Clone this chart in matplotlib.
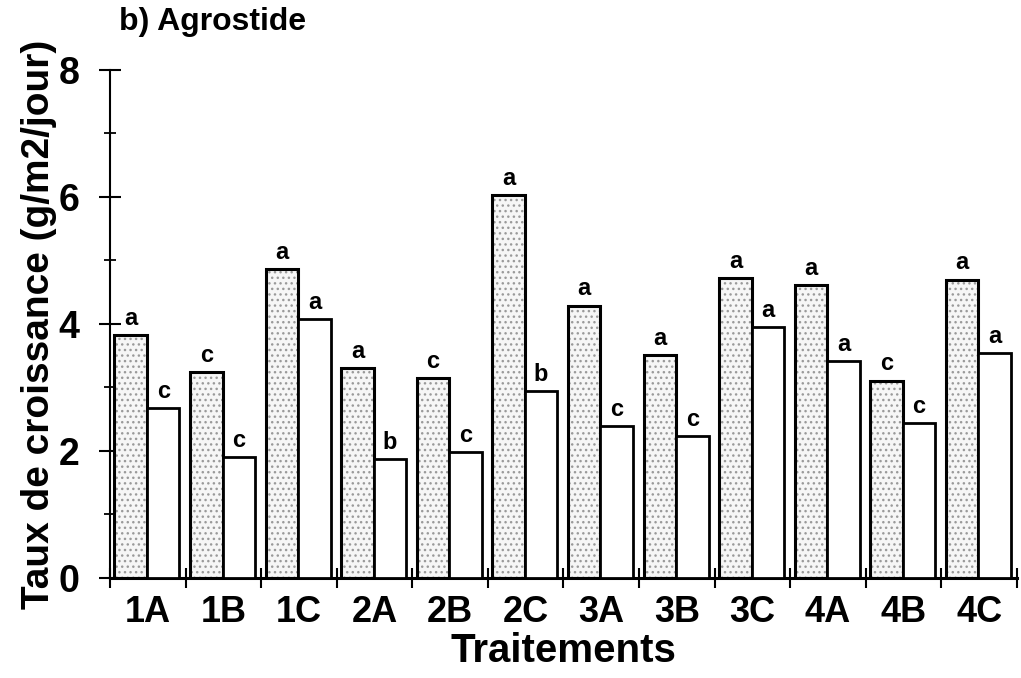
import numpy as np
import matplotlib.pyplot as plt
from matplotlib.ticker import FixedLocator

plt.rcParams['font.family'] = ['Liberation Sans', 'DejaVu Sans']
plt.rcParams['font.weight'] = 'bold'
plt.rcParams['hatch.linewidth'] = 1.0

traitements = ["1A", "1B", "1C", "2A", "2B", "2C", "3A", "3B", "3C", "4A", "4B", "4C"]
taux_pointille = [3.82, 3.24, 4.86, 3.31, 3.15, 6.03, 4.29, 3.51, 4.73, 4.62, 3.11, 4.70]
taux_blanc = [2.67, 1.90, 4.08, 1.87, 1.99, 2.95, 2.39, 2.23, 3.95, 3.41, 2.44, 3.54]
lettres_pointille = ["a", "c", "a", "a", "c", "a", "a", "a", "a", "a", "c", "a"]
lettres_blanc = ["c", "c", "a", "b", "c", "b", "c", "c", "a", "a", "c", "a"]

fig = plt.figure(figsize=(10.21, 6.78), dpi=100)
ax = fig.add_axes([0.1077, 0.1475, 0.8883, 0.7493])

x = np.arange(len(traitements))
w = 0.43
xp = x - w / 2 - 0.01
xb = x + w / 2 - 0.01

# stippled fill first, then the black outlines on top
ax.bar(xp, taux_pointille, w, color="#f6f6f6", hatch="...", edgecolor="#9a9a9a",
       linewidth=0, zorder=2)
ax.bar(xp, taux_pointille, w, fill=False, edgecolor="black", linewidth=2.2, zorder=3)
ax.bar(xb, taux_blanc, w, color="white", edgecolor="black", linewidth=2.0, zorder=3)

for xi, v, t in zip(xp, taux_pointille, lettres_pointille):
    ax.text(xi, v + 0.08, t, ha="center", va="bottom", fontsize=17, fontweight="bold")
for xi, v, t in zip(xb, taux_blanc, lettres_blanc):
    ax.text(xi, v + 0.08, t, ha="center", va="bottom", fontsize=17, fontweight="bold")

ax.set_xlim(-0.5, len(traitements) - 0.5)
ax.set_ylim(0, 8)

ax.spines["top"].set_visible(False)
ax.spines["right"].set_visible(False)
ax.spines["left"].set_bounds(0, 8)
ax.spines["left"].set_linewidth(1.5)
ax.spines["bottom"].set_linewidth(2.2)

# tick marks sit between treatments, labels in the middle of each pair
ax.xaxis.set_major_locator(FixedLocator(np.arange(len(traitements) + 1) - 0.5))
ax.xaxis.set_minor_locator(FixedLocator(x))
ax.set_xticklabels([], minor=False)
ax.set_xticklabels(traitements, minor=True)
ax.tick_params(axis="x", which="major", direction="inout", length=14, width=1.5)
ax.tick_params(axis="x", which="minor", length=0, pad=12, labelsize=26)

ax.set_yticks([0, 2, 4, 6, 8])
ax.set_yticks([1, 3, 5, 7], minor=True)
ax.tick_params(axis="y", which="major", direction="inout", length=16, width=1.5,
               labelsize=27, pad=14)
ax.tick_params(axis="y", which="minor", direction="inout", length=9, width=1.3)

ax.set_xlabel("Traitements", fontsize=29, fontweight="bold", labelpad=2)
ax.set_ylabel("Taux de croissance (g/m2/jour)", fontsize=28, fontweight="bold", labelpad=1)

fig.text(0.117, 0.967, "b) Agrostide", fontsize=23, fontweight="bold", va="center", ha="left")

fig.savefig("out.png", dpi=100)
